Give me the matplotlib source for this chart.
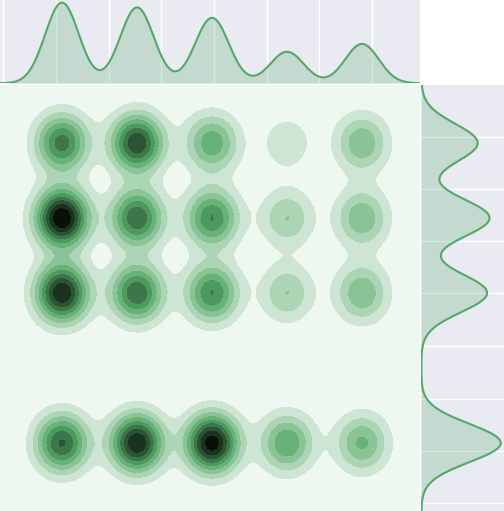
import colorsys
import numpy as np
import matplotlib
matplotlib.use("Agg")
import matplotlib.pyplot as plt
from matplotlib.colors import LinearSegmentedColormap, to_rgb

# category positions (nothing observed at y=2)
x_vals = [1, 2, 3, 4, 5]
y_vals = [5, 4, 3, 1]

# relative counts per cell, one list per y row (top row first)
row_y5 = [6.0, 7.3, 4.4, 1.6, 3.6]
row_y4 = [9.3, 6.4, 5.6, 2.8, 3.6]
row_y3 = [8.3, 6.4, 5.6, 2.8, 3.65]
row_y1 = [6.6, 8.3, 8.9, 4.6, 3.9]

# grid line positions on the marginals
x_ticks = [0.21, 0.92, 1.62, 2.32, 3.02, 3.73, 4.43, 5.13]
y_ticks = [0.20, 0.89, 1.59, 2.30, 3.00, 3.69, 4.39, 5.08]

green = "#55A868"
bw_joint_x = 0.24
bw_joint_y = 0.265
bw_x = 0.225
bw_y = 0.255

counts = np.array([row_y5, row_y4, row_y3, row_y1])
xs_c = np.array(x_vals, dtype=float)
ys_c = np.array(y_vals, dtype=float)

# white -> green -> black colormap
base = to_rgb(green)
h, _, s = colorsys.rgb_to_hls(*base)
shades = [colorsys.hls_to_rgb(h, l, s) for l in np.linspace(1, 0, 12)]
cmap = LinearSegmentedColormap.from_list("green_seq", shades)

W, H = 504, 511
fig = plt.figure(figsize=(W / 100, H / 100), dpi=100)


def px_axes(x0, x1, y0, y1):
    return fig.add_axes([x0 / W, 1 - y1 / H, (x1 - x0) / W, (y1 - y0) / H])


def to_x(px):
    return 1 + (px - 62) / 75


def to_y(py):
    return 1 + (443 - py) / 75


xlim = (to_x(0), to_x(420))
ylim = (to_y(511), to_y(85))

# joint kde
ax = px_axes(0, 420, 85, 511)
gx = np.linspace(xlim[0] - 0.1, xlim[1] + 0.1, 110)
gy = np.linspace(ylim[0] - 0.1, ylim[1] + 0.1, 110)
XX, YY = np.meshgrid(gx, gy)
zz = np.zeros_like(XX)
for j, yv in enumerate(ys_c):
    for i, xv in enumerate(xs_c):
        zz += counts[j, i] * np.exp(-(XX - xv) ** 2 / (2 * bw_joint_x ** 2)
                                    - (YY - yv) ** 2 / (2 * bw_joint_y ** 2))
levels = np.linspace(0, zz.max(), 11)
ax.contourf(XX, YY, zz, levels=levels, cmap=cmap)
ax.set_xlim(xlim)
ax.set_ylim(ylim)
ax.axis("off")


def style_marg(a):
    a.set_facecolor("#EAEAF2")
    for sp in a.spines.values():
        sp.set_visible(False)
    a.tick_params(length=0, labelbottom=False, labelleft=False)


# top marginal
ax_top = px_axes(0, 420, -1.4, 83.3)
style_marg(ax_top)
lx = np.linspace(xlim[0], xlim[1], 400)
col_sums = counts.sum(axis=0)
fx = np.zeros_like(lx)
for xv, c in zip(xs_c, col_sums):
    fx += c * np.exp(-(lx - xv) ** 2 / (2 * bw_x ** 2))
ax_top.fill_between(lx, fx, color=green, alpha=0.25, lw=0)
ax_top.plot(lx, fx, color=green, lw=1.5)
ax_top.set_xlim(xlim)
ax_top.set_ylim(0, fx.max() * 1.05)
ax_top.set_xticks(x_ticks)
ax_top.set_yticks([])
ax_top.set_axisbelow(True)
ax_top.grid(axis="x", color="white", lw=1)

# right marginal
ax_right = px_axes(421.3, 504.7, 85, 511)
style_marg(ax_right)
ly = np.linspace(ylim[0], ylim[1], 400)
row_sums = counts.sum(axis=1)
fy = np.zeros_like(ly)
for yv, c in zip(ys_c, row_sums):
    fy += c * np.exp(-(ly - yv) ** 2 / (2 * bw_y ** 2))
ax_right.fill_betweenx(ly, fy, color=green, alpha=0.25, lw=0)
ax_right.plot(fy, ly, color=green, lw=1.5)
ax_right.set_ylim(ylim)
ax_right.set_xlim(0, fy.max() * 1.05)
ax_right.set_yticks(y_ticks)
ax_right.set_xticks([])
ax_right.set_axisbelow(True)
ax_right.grid(axis="y", color="white", lw=1)

fig.savefig("out.png", dpi=100)
